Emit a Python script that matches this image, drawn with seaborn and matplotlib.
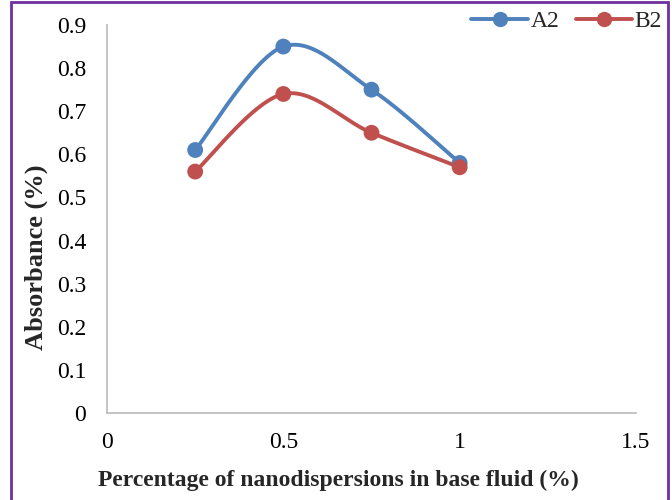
import numpy as np
import pandas as pd
import matplotlib
matplotlib.use("Agg")
import matplotlib.pyplot as plt
from matplotlib.lines import Line2D
from matplotlib.patches import Rectangle
import seaborn as sns

# ---- data ----
x_values = [0.25, 0.5, 0.75, 1.0]
a2_values = [0.61, 0.85, 0.75, 0.58]
b2_values = [0.56, 0.74, 0.65, 0.57]
series_names = ["A2", "B2"]
series_colors = ["#4F81BD", "#C0504D"]
x_ticks = [0, 0.5, 1, 1.5]
x_tick_labels = ["0", "0.5", "1", "1.5"]
y_ticks = [0, 0.1, 0.2, 0.3, 0.4, 0.5, 0.6, 0.7, 0.8, 0.9]
y_tick_labels = ["0", "0.1", "0.2", "0.3", "0.4", "0.5", "0.6", "0.7", "0.8", "0.9"]
x_label = "Percentage of nanodispersions in base fluid (%)"
y_label = "Absorbance (%)"


def smooth_curve(xs, ys, n=60):
    """Excel-like smoothed line (Catmull-Rom converted to cubic Bezier)."""
    P = np.column_stack([xs, ys]).astype(float)
    m = len(P)
    out = []
    for i in range(m - 1):
        p0 = P[max(i - 1, 0)]
        p1 = P[i]
        p2 = P[i + 1]
        p3 = P[min(i + 2, m - 1)]
        c1 = p1 + (p2 - p0) / 6.0
        c2 = p2 - (p3 - p1) / 6.0
        t = np.linspace(0, 1, n)[:, None]
        seg = ((1 - t) ** 3) * p1 + 3 * ((1 - t) ** 2) * t * c1 + 3 * (1 - t) * t ** 2 * c2 + t ** 3 * p2
        out.append(seg if i == 0 else seg[1:])
    c = np.vstack(out)
    return c[:, 0], c[:, 1]


sns.set_theme(style="white")
plt.rcParams["font.family"] = ["Liberation Serif", "DejaVu Serif"]

fig = plt.figure(figsize=(6.72, 5.0), dpi=100)
ax = fig.add_axes([107 / 672, 1 - 413 / 500, (636 - 107) / 672, (413 - 25) / 500])

# smoothed curves
rows = []
for name, ys in zip(series_names, [a2_values, b2_values]):
    sx, sy = smooth_curve(x_values, ys)
    rows.append(pd.DataFrame({"x": sx, "y": sy, "series": name, "order": np.arange(len(sx))}))
curve_df = pd.concat(rows, ignore_index=True)
pts_df = pd.concat([
    pd.DataFrame({"x": x_values, "y": a2_values, "series": "A2"}),
    pd.DataFrame({"x": x_values, "y": b2_values, "series": "B2"}),
], ignore_index=True)

palette = dict(zip(series_names, series_colors))
sns.lineplot(data=curve_df, x="x", y="y", hue="series", palette=palette, sort=False,
             estimator=None, units="series", linewidth=2.8, legend=False, ax=ax)
sns.scatterplot(data=pts_df, x="x", y="y", hue="series", palette=palette, s=130,
                edgecolor="none", legend=False, ax=ax, zorder=3)

ax.set_xlim(0, 1.5)
ax.set_ylim(0, 0.9)
ax.set_xticks(x_ticks)
ax.set_xticklabels(x_tick_labels)
ax.set_yticks(y_ticks)
ax.set_yticklabels(y_tick_labels)
ax.tick_params(axis="both", length=0, labelsize=17, colors="black")
ax.tick_params(axis="x", pad=14)
ax.tick_params(axis="y", pad=15)
ax.set_xlabel("")
ax.set_ylabel("")
for s in ["top", "right"]:
    ax.spines[s].set_visible(False)
for s in ["left", "bottom"]:
    ax.spines[s].set_color("#BFBFBF")
    ax.spines[s].set_linewidth(1.3)
ax.grid(False)

fig.text(0.503, 1 - 480 / 500, x_label, ha="center", va="center", fontsize=17, fontweight="bold")
fig.text(36 / 672, 1 - 257 / 500, y_label, ha="center", va="center", rotation=90,
         fontsize=19, fontweight="bold")

handles = [Line2D([0], [0], color=c, lw=2.8, marker="o", markersize=11, markeredgewidth=0)
           for c in series_colors]
fig.legend(handles, series_names, loc="center right", bbox_to_anchor=(662 / 672, 1 - 21 / 500),
           ncol=2, frameon=False, fontsize=17, handlelength=2.4, handletextpad=0.1,
           columnspacing=0.7, borderpad=0, borderaxespad=0)

# purple chart border
fig.patches.append(Rectangle((11 / 672, -0.02), (668 - 11) / 672, 1 - 2 / 500 + 0.02,
                             transform=fig.transFigure, fill=False, edgecolor="#7030A0",
                             linewidth=2, clip_on=False))

fig.savefig("out.png", dpi=100)
